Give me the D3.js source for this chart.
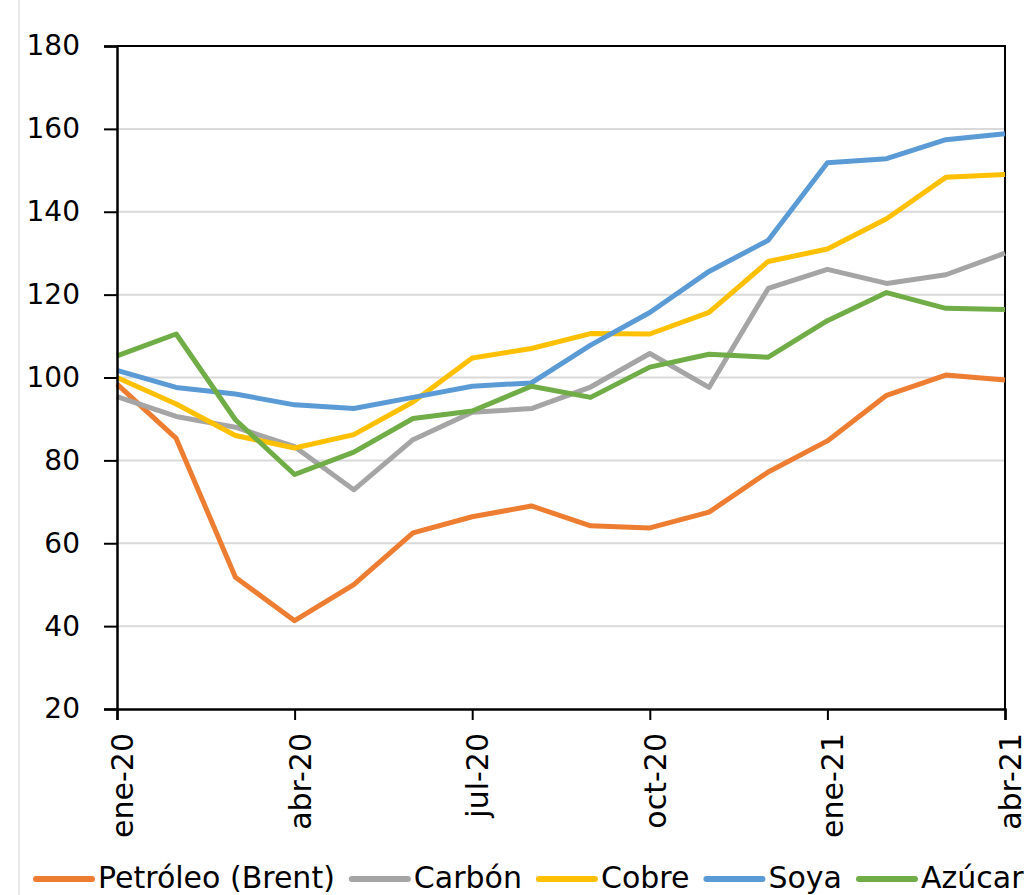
<!DOCTYPE html>
<html>
<head>
<meta charset="utf-8">
<script src="https://cdn.jsdelivr.net/npm/d3@7"></script>
<style>
  body { margin: 0; background: #fff; }
  svg { display: block; font-family: 'DejaVu Sans', sans-serif; }
</style>
</head>
<body>
<div id="chart"></div>
<script>
// Monthly index values (ene-20 .. abr-21)
const months = ['ene-20', 'feb-20', 'mar-20', 'abr-20', 'may-20', 'jun-20', 'jul-20', 'ago-20',
  'sep-20', 'oct-20', 'nov-20', 'dic-20', 'ene-21', 'feb-21', 'mar-21', 'abr-21'];
const tickMonths = ['ene-20', 'abr-20', 'jul-20', 'oct-20', 'ene-21', 'abr-21'];
const yTicks = [20, 40, 60, 80, 100, 120, 140, 160, 180];

const seriesNames = ['Petróleo (Brent)', 'Carbón', 'Cobre', 'Soya', 'Azúcar'];
const seriesColors = ['#ED7D31', '#A5A5A5', '#FFC000', '#5B9BD5', '#70AD47'];

const petroleo = [98.4, 85.3, 51.8, 41.3, 50.0, 62.5, 66.4, 69.0, 64.2, 63.7, 67.5, 77.2, 84.7, 95.7, 100.6, 99.4];
const carbon = [95.4, 90.6, 88.0, 83.3, 72.9, 85.0, 91.6, 92.5, 97.7, 105.8, 97.6, 121.5, 126.1, 122.7, 124.8, 130.0];
const cobre = [100.0, 93.6, 86.0, 83.0, 86.2, 94.1, 104.7, 107.0, 110.6, 110.5, 115.7, 128.0, 131.0, 138.3, 148.3, 149.0];
const soya = [101.7, 97.6, 96.0, 93.4, 92.5, 95.2, 97.9, 98.7, 107.8, 115.7, 125.6, 133.1, 151.8, 152.8, 157.4, 158.8];
const azucar = [105.2, 110.5, 89.8, 76.6, 82.0, 90.1, 91.9, 97.9, 95.2, 102.5, 105.6, 104.9, 113.7, 120.5, 116.7, 116.4];

const seriesValues = [petroleo, carbon, cobre, soya, azucar];

const width = 1030;
const height = 895;
const plot = { left: 117, right: 1005, top: 46, bottom: 709 };

const svg = d3.select('#chart')
  .append('svg')
  .attr('width', width)
  .attr('height', height);

// thin frame line on the far left of the picture
svg.append('line')
  .attr('x1', 19).attr('x2', 19)
  .attr('y1', 0).attr('y2', height)
  .attr('stroke', '#d0d0d0')
  .attr('stroke-width', 1);

const xscale = d3.scalePoint()
  .domain(months)
  .range([plot.left, plot.right]);

const yscale = d3.scaleLinear()
  .domain([20, 180])
  .range([plot.bottom, plot.top]);

// Gridlines
svg.append('g')
  .selectAll('line')
  .data(yTicks.filter((t) => t > 20 && t < 180))
  .enter()
  .append('line')
  .attr('x1', plot.left)
  .attr('x2', plot.right)
  .attr('y1', (d) => yscale(d))
  .attr('y2', (d) => yscale(d))
  .attr('stroke', '#d9d9d9')
  .attr('stroke-width', 2);

// Plot frame (top and right)
svg.append('path')
  .attr('d', `M${plot.left},${plot.top}H${plot.right}V${plot.bottom}`)
  .attr('fill', 'none')
  .attr('stroke', '#000')
  .attr('stroke-width', 2);

// Lines
const line = d3.line()
  .x((d, i) => xscale(months[i]))
  .y((d) => yscale(d));

svg.append('g')
  .selectAll('path')
  .data(seriesValues)
  .enter()
  .append('path')
  .attr('d', (d) => line(d))
  .attr('fill', 'none')
  .attr('stroke', (d, i) => seriesColors[i])
  .attr('stroke-width', 5)
  .attr('stroke-linejoin', 'round');

// Y axis
const yAxis = d3.axisLeft(yscale).tickValues(yTicks).tickSize(13).tickPadding(24);
const yAxisG = svg.append('g')
  .attr('transform', `translate(${plot.left},0)`)
  .call(yAxis);
yAxisG.select('.domain').attr('stroke', '#000').attr('stroke-width', 2.5);
yAxisG.selectAll('.tick line').attr('stroke', '#000').attr('stroke-width', 2);
yAxisG.selectAll('.tick text')
  .attr('fill', '#000')
  .style('font-size', '28px')
  .style('font-family', "'DejaVu Sans', sans-serif");

// X axis
const xAxis = d3.axisBottom(xscale).tickValues(tickMonths).tickSize(11);
const xAxisG = svg.append('g')
  .attr('transform', `translate(0,${plot.bottom})`)
  .call(xAxis);
xAxisG.select('.domain').attr('stroke', '#000').attr('stroke-width', 2.5);
xAxisG.selectAll('.tick line').attr('stroke', '#000').attr('stroke-width', 2);
xAxisG.selectAll('.tick text')
  .attr('fill', '#000')
  .attr('transform', 'rotate(-90)')
  .attr('x', -24)
  .attr('y', 5)
  .attr('dy', '0.35em')
  .attr('text-anchor', 'end')
  .style('font-size', '30px')
  .style('font-family', "'DejaVu Sans', sans-serif");

// Legend
const legend = svg.append('g').attr('id', 'legend');
let legendX = 36;
const legendY = 879;
seriesNames.forEach((name, i) => {
  legend.append('line')
    .attr('x1', legendX)
    .attr('x2', legendX + 56)
    .attr('y1', legendY)
    .attr('y2', legendY)
    .attr('stroke', seriesColors[i])
    .attr('stroke-width', 6)
    .attr('stroke-linecap', 'round');
  const label = legend.append('text')
    .attr('x', legendX + 62)
    .attr('y', legendY + 9)
    .style('font-size', '30px')
    .attr('fill', '#000')
    .text(name);
  legendX += 62 + label.node().getComputedTextLength() + 17;
});
</script>
</body>
</html>
